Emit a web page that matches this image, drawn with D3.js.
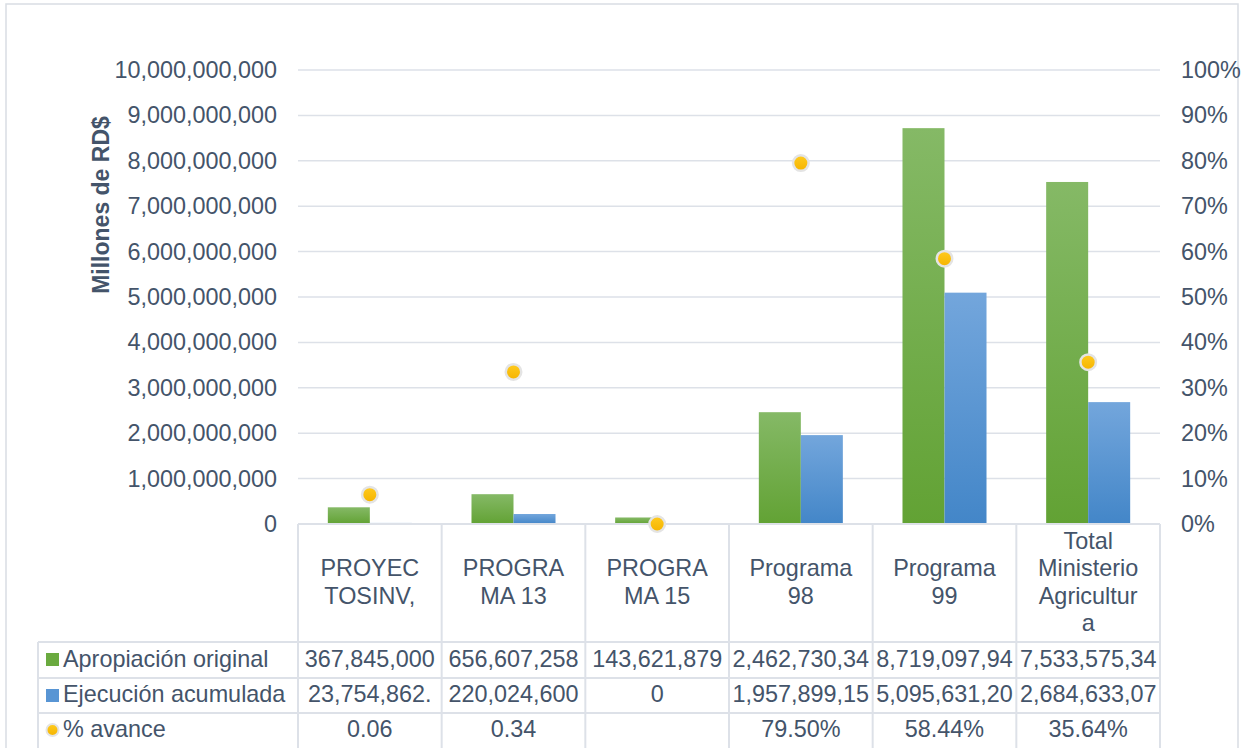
<!DOCTYPE html>
<html>
<head>
<meta charset="utf-8">
<script src="https://cdn.jsdelivr.net/npm/d3@7"></script>
<style>
body { margin: 0; background: #fff; }
text { font-family: "Liberation Sans", Arial, sans-serif; fill: #44546a; }
</style>
</head>
<body>
<svg width="1244" height="748"></svg>
<script>
// chart data
var categories = [
    ["PROYEC", "TOSINV,"],
    ["PROGRA", "MA 13"],
    ["PROGRA", "MA 15"],
    ["Programa", "98"],
    ["Programa", "99"],
    ["Total", "Ministerio", "Agricultur", "a"]
];
var apropiacion = [367845000, 656607258, 143621879, 2462730340, 8719097940, 7533575340];
var ejecucion = [23754862, 220024600, 0, 1957899150, 5095631200, 2684633070];
var avance = [0.0646, 0.335, 0, 0.795, 0.5844, 0.3564];

// table cells as they show in the picture (cut off by the cell width)
var apropiacionText = ["367,845,000", "656,607,258", "143,621,879", "2,462,730,34", "8,719,097,94", "7,533,575,34"];
var ejecucionText = ["23,754,862.", "220,024,600", "0", "1,957,899,15", "5,095,631,20", "2,684,633,07"];
var avanceText = ["0.06", "0.34", "", "79.50%", "58.44%", "35.64%"];
var seriesNames = ["Apropiación original", "Ejecución acumulada", "% avance"];

var leftTicks = d3.range(0, 10000000001, 1000000000);
var rightTicks = d3.range(0, 11).map(function(i) { return i / 10; });

var svg = d3.select("svg"),
    plotLeft = 298, plotRight = 1160, plotTop = 70, plotBottom = 524,
    tableLeft = 38,
    rowLines = [642, 678, 713, 749],
    fontSize = 23.4,
    lineColor = "#dde1e8";

var x = d3.scaleBand()
    .domain(d3.range(categories.length))
    .range([plotLeft, plotRight])
    .padding(0);

var xSub = d3.scaleBand()
    .domain(["a", "e"])
    .range([0, x.bandwidth()])
    .paddingInner(0)
    .paddingOuter(0.71);

var y = d3.scaleLinear().domain([0, 10000000000]).range([plotBottom, plotTop]);
var y2 = d3.scaleLinear().domain([0, 1]).range([plotBottom, plotTop]);

// gradients
var defs = svg.append("defs");
function grad(id, c1, c2) {
    var g = defs.append("linearGradient").attr("id", id)
        .attr("x1", 0).attr("y1", 0).attr("x2", 0).attr("y2", 1);
    g.append("stop").attr("offset", "0%").attr("stop-color", c1);
    g.append("stop").attr("offset", "100%").attr("stop-color", c2);
}
grad("gGreen", "#85b966", "#62a234");
grad("gBlue", "#73a6dc", "#4386c8");
grad("gGold", "#ffcb1f", "#f5b400");

// outer border
svg.append("rect")
    .attr("x", 6).attr("y", 4)
    .attr("width", 1232).attr("height", 770)
    .attr("fill", "none")
    .attr("stroke", "#d9dde3")
    .attr("stroke-width", 1.5);

// gridlines
svg.append("g")
    .selectAll("line")
    .data(leftTicks.slice(1))
    .enter().append("line")
    .attr("x1", plotLeft).attr("x2", plotRight)
    .attr("y1", function(d) { return y(d); })
    .attr("y2", function(d) { return y(d); })
    .attr("stroke", lineColor)
    .attr("stroke-width", 1.5);

// left axis
var gl = svg.append("g")
    .attr("transform", "translate(" + plotLeft + ",0)")
    .call(d3.axisLeft(y).tickValues(leftTicks).tickFormat(d3.format(",")).tickSize(0).tickPadding(21));
gl.select(".domain").remove();
gl.selectAll("text").style("font-size", fontSize + "px").attr("font-family", null).attr("fill", null);

// right axis
var gr = svg.append("g")
    .attr("transform", "translate(" + plotRight + ",0)")
    .call(d3.axisRight(y2).tickValues(rightTicks).tickFormat(d3.format(".0%")).tickSize(0).tickPadding(21));
gr.select(".domain").remove();
gr.selectAll("text").style("font-size", fontSize + "px").attr("font-family", null).attr("fill", null);

// axis title
svg.append("text")
    .attr("transform", "translate(109,205) rotate(-90)")
    .attr("text-anchor", "middle")
    .style("font-size", "23px")
    .style("font-weight", "bold")
    .text("Millones de RD$");

// bars
var bars = svg.append("g");
bars.selectAll(".aprop")
    .data(apropiacion)
    .enter().append("rect")
    .attr("x", function(d, i) { return x(i) + xSub("a"); })
    .attr("y", function(d) { return y(d); })
    .attr("width", xSub.bandwidth())
    .attr("height", function(d) { return plotBottom - y(d); })
    .attr("fill", "url(#gGreen)");
bars.selectAll(".ejec")
    .data(ejecucion)
    .enter().append("rect")
    .attr("x", function(d, i) { return x(i) + xSub("e"); })
    .attr("y", function(d) { return y(d); })
    .attr("width", xSub.bandwidth())
    .attr("height", function(d) { return plotBottom - y(d); })
    .attr("fill", "url(#gBlue)");

// table lines
var cols = d3.range(categories.length + 1).map(function(i) {
    return i < categories.length ? x(i) : plotRight;
});
var tbl = svg.append("g").attr("stroke", lineColor).attr("stroke-width", 2);
tbl.selectAll(".v")
    .data(cols)
    .enter().append("line")
    .attr("x1", function(d) { return d; }).attr("x2", function(d) { return d; })
    .attr("y1", plotBottom).attr("y2", 749);
tbl.append("line")
    .attr("x1", tableLeft).attr("x2", tableLeft)
    .attr("y1", rowLines[0]).attr("y2", 749);
tbl.append("line")
    .attr("x1", plotLeft).attr("x2", plotRight)
    .attr("y1", plotBottom).attr("y2", plotBottom);
tbl.selectAll(".h")
    .data(rowLines.slice(0, 3))
    .enter().append("line")
    .attr("x1", tableLeft).attr("x2", plotRight)
    .attr("y1", function(d) { return d; })
    .attr("y2", function(d) { return d; });

// dots for % avance
svg.append("g")
    .selectAll("circle")
    .data(avance)
    .enter().append("circle")
    .attr("cx", function(d, i) { return x(i) + x.bandwidth() / 2; })
    .attr("cy", function(d) { return y2(d); })
    .attr("r", 7.75)
    .attr("fill", "url(#gGold)")
    .attr("stroke", "#e4e4e4")
    .attr("stroke-width", 2.5);

// category header labels
var hdr = svg.append("g");
categories.forEach(function(lines, i) {
    var t = hdr.append("text")
        .attr("text-anchor", "middle")
        .style("font-size", fontSize + "px");
    lines.forEach(function(l, j) {
        t.append("tspan")
            .attr("x", x(i) + x.bandwidth() / 2)
            .attr("y", 590 + (j - (lines.length - 1) / 2) * 27.3)
            .text(l);
    });
});

// clip paths for the cells
categories.forEach(function(c, i) {
    defs.append("clipPath").attr("id", "cell" + i)
        .append("rect")
        .attr("x", x(i) + 1).attr("y", rowLines[0])
        .attr("width", x.bandwidth() - 2).attr("height", 749 - rowLines[0]);
});

var rows = [apropiacionText, ejecucionText, avanceText];
var baselines = [667, 702, 737];
rows.forEach(function(r, k) {
    svg.append("g")
        .selectAll("text")
        .data(r)
        .enter().append("text")
        .attr("clip-path", function(d, i) { return "url(#cell" + i + ")"; })
        .attr("x", function(d, i) { return x(i) + x.bandwidth() / 2; })
        .attr("y", baselines[k])
        .attr("text-anchor", "middle")
        .style("font-size", fontSize + "px")
        .text(function(d) { return d; });
});

// legend column
var leg = svg.append("g");
leg.append("rect").attr("x", 46).attr("y", 653).attr("width", 13).attr("height", 13).attr("fill", "#6aaa3f");
leg.append("rect").attr("x", 46).attr("y", 689).attr("width", 13).attr("height", 13).attr("fill", "#5895d4");
leg.append("circle").attr("cx", 52.5).attr("cy", 730).attr("r", 6)
    .attr("fill", "url(#gGold)").attr("stroke", "#e4e4e4").attr("stroke-width", 2);
leg.selectAll("text")
    .data(seriesNames)
    .enter().append("text")
    .attr("x", 63)
    .attr("y", function(d, i) { return baselines[i]; })
    .style("font-size", fontSize + "px")
    .text(function(d) { return d; });
</script>
</body>
</html>
